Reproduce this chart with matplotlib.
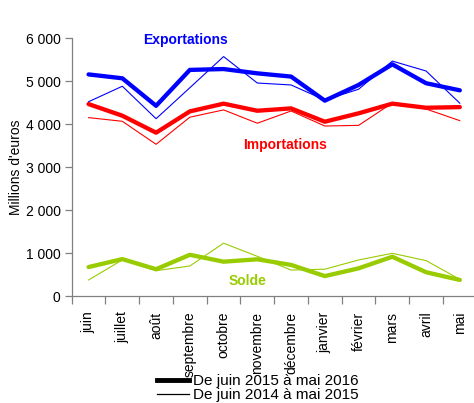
import matplotlib
matplotlib.use("Agg")
import matplotlib.pyplot as plt
from matplotlib.lines import Line2D
from matplotlib.ticker import FuncFormatter, FixedLocator

plt.rcParams['font.family'] = ['Liberation Sans', 'DejaVu Sans']

months = ["juin", "juillet", "août", "septembre", "octobre", "novembre",
          "décembre", "janvier", "février", "mars", "avril", "mai"]

export_2016 = [5160, 5070, 4430, 5265, 5285, 5185, 5110, 4550, 4915, 5395, 4955, 4790]
export_2015 = [4525, 4885, 4130, 4850, 5575, 4960, 4915, 4565, 4815, 5470, 5240, 4490]
import_2016 = [4470, 4200, 3805, 4300, 4480, 4315, 4370, 4060, 4255, 4480, 4385, 4400]
import_2015 = [4155, 4070, 3535, 4165, 4335, 4025, 4310, 3960, 3975, 4495, 4355, 4085]
solde_2016 = [680, 865, 630, 965, 805, 860, 730, 470, 650, 920, 560, 380]
solde_2015 = [380, 845, 595, 705, 1235, 930, 610, 630, 845, 1000, 830, 395]

yticks = [0, 1000, 2000, 3000, 4000, 5000, 6000]
legend_labels = ["De juin 2015 à mai 2016", "De juin 2014 à mai 2015"]

BLUE = "#0000FF"
RED = "#FF0000"
GREEN = "#99CC00"

fig = plt.figure(figsize=(4.74, 4.03), dpi=100)
ax = fig.add_axes([71.7 / 474, (403 - 296.3) / 403, 405 / 474, 258 / 403])

x = list(range(len(months)))
thin, thick = 0.8, 3.1
for vals, c in [(export_2015, BLUE), (import_2015, RED), (solde_2015, GREEN)]:
    ax.plot(x, vals, color=c, lw=thin, solid_joinstyle='miter', zorder=2)
for vals, c in [(export_2016, BLUE), (import_2016, RED), (solde_2016, GREEN)]:
    ax.plot(x, vals, color=c, lw=thick, solid_joinstyle='round', solid_capstyle='round', zorder=3)

ax.set_xlim(-0.5, len(months) - 0.5)
ax.set_ylim(0, 6000)
ax.set_yticks(yticks)
ax.yaxis.set_major_formatter(FuncFormatter(lambda v, p: f"{int(v):,}".replace(",", " ")))
ax.set_xticks(x)
ax.set_xticklabels(months, rotation=90, va='top', ha='center')
ax.xaxis.set_minor_locator(FixedLocator([i - 0.5 for i in range(len(months) + 1)]))
ax.tick_params(axis='x', which='major', length=0, pad=11, labelsize=10, colors='black')
ax.tick_params(axis='x', which='minor', length=6, width=0.9, color='#808080')
ax.tick_params(axis='y', which='major', length=5, width=0.9, color='#808080', labelsize=10, pad=3)

for s in ['top', 'right']:
    ax.spines[s].set_visible(False)
for s in ['left', 'bottom']:
    ax.spines[s].set_color('#808080')
    ax.spines[s].set_linewidth(0.9)

ax.set_ylabel("Millions d'euros", fontsize=10, labelpad=2)

ax.text(2.88, 5950, "Exportations", color=BLUE, fontsize=10, fontweight='bold', ha='center', va='center')
ax.text(5.82, 3520, "Importations", color=RED, fontsize=10, fontweight='bold', ha='center', va='center')
ax.text(4.71, 363, "Solde", color=GREEN, fontsize=10, fontweight='bold', ha='center', va='center')

handles = [Line2D([], [], color='black', lw=3.5), Line2D([], [], color='black', lw=0.9)]
fig.legend(handles, legend_labels, loc='upper left', bbox_to_anchor=(157 / 474, (403 - 374) / 403),
           frameon=False, fontsize=11, handlelength=2.1, handletextpad=0.25, labelspacing=0.0,
           borderpad=0, borderaxespad=0)

fig.savefig("out.png", dpi=100)
